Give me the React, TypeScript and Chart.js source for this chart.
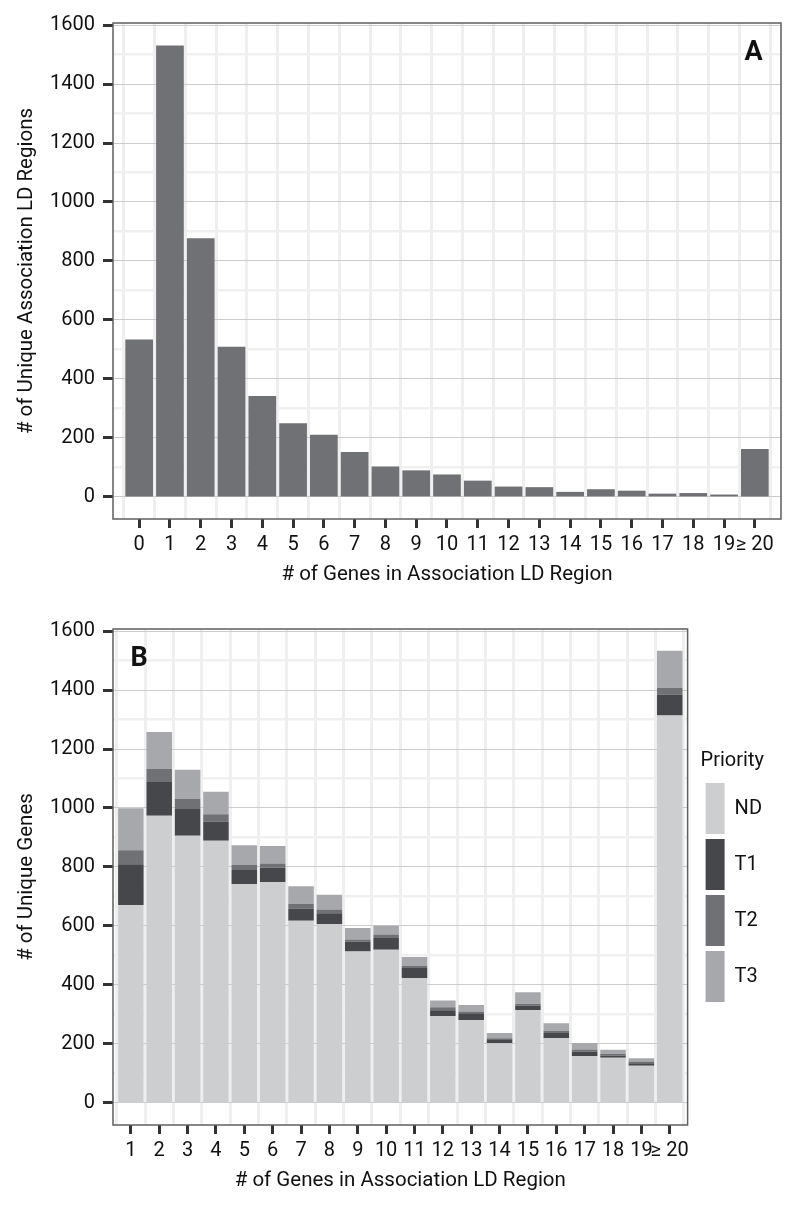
import React, { useEffect, useRef } from 'react';
import { Chart, registerables } from 'chart.js';

Chart.register(...registerables);

// ---------- data ----------
const regionBinLabels = ['0', '1', '2', '3', '4', '5', '6', '7', '8', '9', '10', '11', '12', '13', '14', '15', '16', '17', '18', '19', '≥ 20'];
const uniqueRegionCounts = [534, 1531, 877, 509, 342, 250, 211, 152, 103, 90, 76, 55, 35, 33, 17, 26, 21, 11, 13, 8, 162];

const geneBinLabels = ['1', '2', '3', '4', '5', '6', '7', '8', '9', '10', '11', '12', '13', '14', '15', '16', '17', '18', '19', '≥ 20'];
const ndGenes = [671, 974, 906, 889, 741, 748, 618, 607, 513, 519, 423, 294, 281, 202, 315, 219, 159, 153, 126, 1314];
const t1Genes = [138, 114, 91, 65, 49, 49, 41, 36, 34, 40, 34, 20, 23, 14, 15, 18, 15, 8, 8, 71];
const t2Genes = [48, 45, 34, 25, 17, 15, 16, 13, 7, 12, 7, 10, 6, 3, 6, 8, 7, 5, 6, 23];
const t3Genes = [142, 125, 99, 76, 67, 59, 60, 50, 39, 30, 31, 23, 22, 18, 39, 25, 22, 14, 11, 125];

const priorityNames = ['ND', 'T1', 'T2', 'T3'];
const yTickValues = [0, 100, 200, 300, 400, 500, 600, 700, 800, 900, 1000, 1100, 1200, 1300, 1400, 1500, 1600];
const yMajorStep = 200;

// ---------- styles ----------
const FONT = 'Roboto, "DejaVu Sans", sans-serif';
const TEXT = '#111111';
const barGreyA = '#707174';
const priorityColors = ['#cdced0', '#46474a', '#707174', '#a7a8ab'];
const Y_MIN = -75;
const Y_MAX = 1607;
// the bar ruler sees the half-step grid ticks, so its unit is half a category
const BAR_FRACTION = 0.9 * 2;

const isInt = (v: any) => typeof v === 'number' && Number.isInteger(v);

function halfStepTicks(n: number) {
  const arr: { value: number }[] = [];
  for (let k = -1; k <= 2 * n - 1; k++) arr.push({ value: k / 2 });
  return arr;
}

function makeX(labels: string[], min: number, max: number, stacked: boolean) {
  return {
    type: 'linear',
    min,
    max,
    offset: false,
    stacked,
    afterBuildTicks: (s: any) => {
      s.ticks = halfStepTicks(labels.length);
    },
    afterFit: (s: any) => {
      s.height = 87;
    },
    grid: {
      offset: false,
      color: (c: any) => (isInt(c.tick?.value) ? 'rgba(0,0,0,0)' : '#efefef'),
      lineWidth: 3,
      tickColor: (c: any) => (isInt(c.tick?.value) ? '#333333' : 'rgba(0,0,0,0)'),
      tickWidth: 3,
      tickLength: 9,
    },
    border: { display: false },
    ticks: {
      autoSkip: false,
      maxRotation: 0,
      minRotation: 0,
      padding: 5,
      color: TEXT,
      font: { family: FONT, size: 20 },
      callback: (v: any) => (isInt(v) ? labels[v] ?? '' : ''),
    },
    title: {
      display: true,
      text: '# of Genes in Association LD Region',
      color: TEXT,
      font: { family: FONT, size: 20.5 },
      padding: { top: 0, bottom: 19 },
    },
  };
}

function makeY(title: string, stacked: boolean) {
  return {
    type: 'linear',
    min: Y_MIN,
    max: Y_MAX,
    stacked,
    afterBuildTicks: (s: any) => {
      s.ticks = yTickValues.map((v) => ({ value: v }));
    },
    afterFit: (s: any) => {
      s.width = 113;
    },
    grid: {
      color: (c: any) => (c.tick && c.tick.value % yMajorStep === 0 ? '#cccccc' : '#f0f0f0'),
      lineWidth: (c: any) => (c.tick && c.tick.value % yMajorStep === 0 ? 1 : 2.5),
      tickColor: (c: any) => (c.tick && c.tick.value % yMajorStep === 0 ? '#333333' : 'rgba(0,0,0,0)'),
      tickWidth: 3,
      tickLength: 10,
    },
    border: { display: false },
    ticks: {
      padding: 8,
      color: TEXT,
      font: { family: FONT, size: 20 },
      callback: (v: any) => (v % yMajorStep === 0 ? String(v) : ''),
    },
    title: {
      display: true,
      text: title,
      color: TEXT,
      font: { family: FONT, size: 20.5 },
      padding: { top: 15, bottom: 0 },
    },
  };
}

function panelFrame(letter: string, side: 'left' | 'right') {
  return {
    id: 'panelFrame' + letter,
    afterDraw(chart: any) {
      const { ctx, chartArea: a } = chart;
      ctx.save();
      ctx.strokeStyle = '#5f5f5f';
      ctx.lineWidth = 1.5;
      ctx.strokeRect(a.left, a.top, a.right - a.left, a.bottom - a.top);
      ctx.font = `bold 27px ${FONT}`;
      ctx.fillStyle = TEXT;
      ctx.textAlign = 'center';
      ctx.textBaseline = 'middle';
      const x = side === 'right' ? a.right - 27.5 : a.left + 26;
      ctx.fillText(letter, x, a.top + 30);
      ctx.restore();
    },
  };
}

export default function App() {
  const refA = useRef<HTMLCanvasElement | null>(null);
  const refB = useRef<HTMLCanvasElement | null>(null);

  useEffect(() => {
    const chartA = new Chart(refA.current as HTMLCanvasElement, {
      type: 'bar',
      data: {
        datasets: [
          {
            label: 'Regions',
            data: uniqueRegionCounts.map((v, i) => ({ x: i, y: v })),
            backgroundColor: barGreyA,
            borderWidth: 0,
            categoryPercentage: 1,
            barPercentage: BAR_FRACTION,
          },
        ],
      },
      options: {
        responsive: false,
        devicePixelRatio: 1,
        animation: false,
        layout: { padding: { top: 23, right: 19, left: 0, bottom: 0 } },
        scales: {
          x: makeX(regionBinLabels, -0.85, 20.85, false) as any,
          y: makeY('# of Unique Association LD Regions', false) as any,
        },
        plugins: { legend: { display: false }, tooltip: { enabled: false } },
      },
      plugins: [panelFrame('A', 'right')],
    } as any);

    const stackSeries = [ndGenes, t1Genes, t2Genes, t3Genes];
    const chartB = new Chart(refB.current as HTMLCanvasElement, {
      type: 'bar',
      data: {
        datasets: stackSeries.map((series, k) => ({
          label: priorityNames[k],
          data: series.map((v, i) => ({ x: i, y: v })),
          backgroundColor: priorityColors[k],
          borderWidth: 0,
          categoryPercentage: 1,
          barPercentage: BAR_FRACTION,
          xAxisID: 'x',
          yAxisID: 'y',
        })),
      },
      options: {
        responsive: false,
        devicePixelRatio: 1,
        animation: false,
        layout: { padding: { top: 23, right: 28, left: 0, bottom: 0 } },
        scales: {
          x: makeX(geneBinLabels, -0.63, 19.63, true) as any,
          y: makeY('# of Unique Genes', true) as any,
          gap: {
            type: 'linear',
            position: 'right',
            display: true,
            grid: { display: false },
            border: { display: false },
            ticks: { display: false },
            title: { display: false },
            afterFit: (s: any) => {
              s.width = 13;
            },
          } as any,
        },
        plugins: {
          tooltip: { enabled: false },
          legend: {
            display: true,
            position: 'right',
            align: 'center',
            fullSize: false,
            title: {
              display: true,
              text: 'Priority',
              color: TEXT,
              position: 'start',
              font: { family: FONT, size: 20 },
              padding: { top: 4, bottom: 3 },
            },
            labels: {
              boxWidth: 19,
              boxHeight: 51,
              padding: 5,
              color: TEXT,
              font: { family: FONT, size: 20 },
            },
          },
        },
      },
      plugins: [panelFrame('B', 'left')],
    } as any);

    return () => {
      chartA.destroy();
      chartB.destroy();
    };
  }, []);

  return (
    <div style={{ position: 'absolute', left: 0, top: 0, width: 800, height: 1212, background: '#ffffff' }}>
      <canvas ref={refA} width={800} height={606} style={{ display: 'block', width: 800, height: 606 }} />
      <canvas ref={refB} width={800} height={606} style={{ display: 'block', width: 800, height: 606 }} />
    </div>
  );
}
